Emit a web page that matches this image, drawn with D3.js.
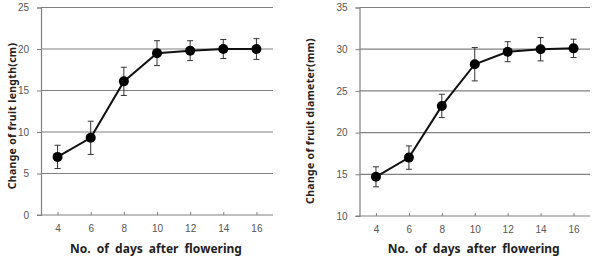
<!DOCTYPE html>
<html>
<head>
<meta charset="utf-8">
<script src="https://cdn.jsdelivr.net/npm/d3@7"></script>
<style>
  body { margin: 0; background: #fff; }
  svg { display: block; font-family: "Noto Sans", "DejaVu Sans", sans-serif; }
</style>
</head>
<body>
<svg id="chart" width="592" height="257"></svg>
<script>
// data
var days = [4, 6, 8, 10, 12, 14, 16];
var lengthMean = [7.0, 9.3, 16.1, 19.5, 19.8, 20.0, 20.0];
var lengthErr = [1.4, 2.0, 1.7, 1.5, 1.2, 1.15, 1.25];
var diamMean = [14.7, 17.0, 23.2, 28.2, 29.7, 30.0, 30.1];
var diamErr = [1.2, 1.4, 1.4, 2.0, 1.2, 1.4, 1.1];
var lengthTicks = [0, 5, 10, 15, 20, 25];
var diamTicks = [10, 15, 20, 25, 30, 35];

var svg = d3.select("#chart");

function drawPanel(opt) {
    var g = svg.append("g");
    var x = d3.scalePoint().domain(days).range([opt.left, opt.right]).padding(0.5);
    var y = d3.scaleLinear().domain([opt.ticks[0], opt.ticks[opt.ticks.length - 1]])
        .range([opt.bottom, opt.top]);

    // gridlines
    g.selectAll("line.grid").data(opt.ticks.slice(1)).enter()
        .append("line")
        .attr("x1", opt.left).attr("x2", opt.right)
        .attr("y1", function(d) { return y(d); })
        .attr("y2", function(d) { return y(d); })
        .attr("stroke", "#808080").attr("stroke-width", 1.2);

    // y axis
    var yAxis = g.append("g")
        .attr("transform", "translate(" + opt.left + ",0)")
        .call(d3.axisLeft(y).tickValues(opt.ticks).tickSize(4).tickPadding(8));
    yAxis.select(".domain").attr("stroke", "#808080").attr("stroke-width", 1.2);
    yAxis.selectAll(".tick line").attr("stroke", "#808080");
    yAxis.selectAll("text").attr("fill", "#555").style("font-size", "10px");

    // x axis
    var xAxis = g.append("g")
        .attr("transform", "translate(0," + opt.bottom + ")")
        .call(d3.axisBottom(x).tickSizeInner(-3).tickSizeOuter(0).tickPadding(10));
    xAxis.select(".domain").attr("stroke", "#808080").attr("stroke-width", 1.2)
        .attr("d", "M" + (opt.left - 4) + ",0H" + opt.right);
    xAxis.selectAll(".tick line").attr("stroke", "#808080");
    xAxis.selectAll("text").attr("fill", "#555").style("font-size", "10px");

    // axis titles
    g.append("text")
        .attr("x", (opt.left + opt.right) / 2 - 1).attr("y", 253)
        .attr("text-anchor", "middle")
        .style("font-size", "12px").style("font-weight", "bold")
        .style("word-spacing", "3px").attr("fill", "#222")
        .text("No. of days after flowering");
    g.append("text")
        .attr("transform", "translate(" + opt.ytitleX + "," + opt.ytitleY + ") rotate(-90)")
        .attr("text-anchor", "middle")
        .style("font-size", "10.5px").style("font-weight", "bold")
        .style("letter-spacing", "0.3px").attr("fill", "#222")
        .text(opt.ytitle);

    var pts = days.map(function(d, i) { return {day: d, v: opt.mean[i], e: opt.err[i]}; });

    // error bars
    var eb = g.selectAll("g.err").data(pts).enter().append("g");
    eb.append("line")
        .attr("x1", function(d) { return x(d.day); })
        .attr("x2", function(d) { return x(d.day); })
        .attr("y1", function(d) { return y(d.v - d.e); })
        .attr("y2", function(d) { return y(d.v + d.e); })
        .attr("stroke", "#333").attr("stroke-width", 1);
    [-1, 1].forEach(function(s) {
        eb.append("line")
            .attr("x1", function(d) { return x(d.day) - 3; })
            .attr("x2", function(d) { return x(d.day) + 3; })
            .attr("y1", function(d) { return y(d.v + s * d.e); })
            .attr("y2", function(d) { return y(d.v + s * d.e); })
            .attr("stroke", "#333").attr("stroke-width", 1);
    });

    // line
    g.append("path").datum(pts)
        .attr("fill", "none").attr("stroke", "#111").attr("stroke-width", 2)
        .attr("d", d3.line()
            .x(function(d) { return x(d.day); })
            .y(function(d) { return y(d.v); }));

    // markers
    g.selectAll("circle").data(pts).enter()
        .append("circle")
        .attr("cx", function(d) { return x(d.day); })
        .attr("cy", function(d) { return y(d.v); })
        .attr("r", 5)
        .attr("fill", "#000");
}

drawPanel({left: 41, right: 273, top: 7.5, bottom: 215,
    ticks: lengthTicks, mean: lengthMean, err: lengthErr,
    ytitle: "Change of fruit length(cm)", ytitleX: 16, ytitleY: 116});
drawPanel({left: 359.5, right: 590, top: 7.5, bottom: 216,
    ticks: diamTicks, mean: diamMean, err: diamErr,
    ytitle: "Change of fruit diameter(mm)", ytitleX: 314, ytitleY: 121});
</script>
</body>
</html>
